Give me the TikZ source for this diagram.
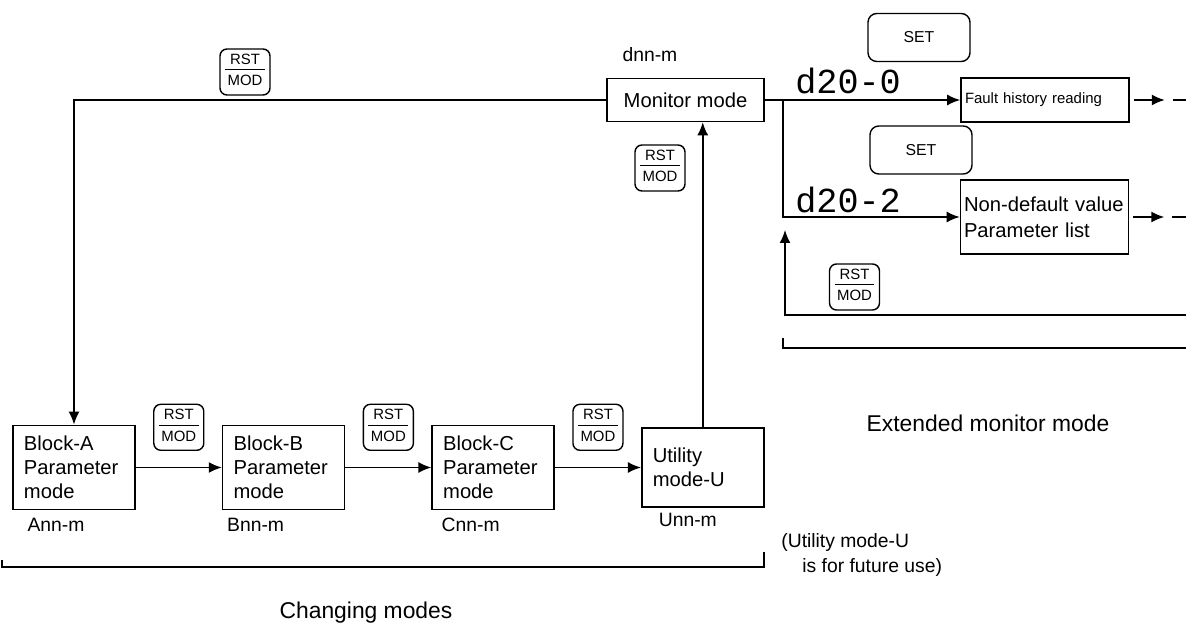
\documentclass[tikz,border=0pt]{standalone}
\usepackage{fontspec}
\setmainfont{Liberation Sans}
\newfontfamily\segfont{Liberation Mono}
\usetikzlibrary{arrows.meta,positioning,calc}

\newcommand{\rstmod}{\begin{tabular}{@{\,}c@{\,}}RST\\[0pt]\hline\rule{0pt}{9pt}MOD\end{tabular}}

\begin{document}
\begin{tikzpicture}[
  mbox/.style={rectangle, draw, line width=0.9pt, minimum width=2.44cm, minimum height=1.58cm,
               text width=2.0cm, align=left, inner sep=0.22cm, font=\fontsize{11.5}{13.5}\selectfont},
  ebox/.style={rectangle, draw, line width=0.9pt, align=left, inner sep=2pt},
  key/.style={rectangle, rounded corners=4pt, draw, line width=0.8pt, minimum width=1cm,
              minimum height=0.92cm, inner sep=1pt, font=\fontsize{8.5}{9}\selectfont},
  setkey/.style={rectangle, rounded corners=5pt, draw, line width=0.8pt, minimum width=2.04cm,
                 minimum height=0.96cm, font=\fontsize{9}{10}\selectfont},
  lbl/.style={inner sep=0pt, font=\fontsize{11}{13}\selectfont},
  caption/.style={inner sep=0pt, font=\fontsize{13}{15}\selectfont},
  seg/.style={inner sep=0pt, font=\segfont\fontsize{20}{20}\selectfont},
  arr/.style={-{Latex[length=2.6mm,width=2.2mm]}, line width=0.9pt},
  ln/.style={line width=0.9pt}
]
  \useasboundingbox (0,0) rectangle (23.72,-12.48);

  % changing modes
  \node[mbox] (blka) at (1.48,-9.35) {Block-A\\Parameter\\mode};
  \node[mbox,right=1.72cm of blka] (blkb) {Block-B\\Parameter\\mode};
  \node[mbox,right=1.72cm of blkb] (blkc) {Block-C\\Parameter\\mode};
  \node[mbox,right=1.72cm of blkc] (util) {Utility\\mode-U};

  \node[lbl,below right=0.14cm and 0.3cm of blka.south west] (anm) {Ann-m};
  \node[lbl,below right=0.14cm and 0.1cm of blkb.south west] (bnm) {Bnn-m};
  \node[lbl,below right=0.14cm and 0.2cm of blkc.south west] (cnm) {Cnn-m};
  \node[lbl,below right=0.1cm and 0.35cm of util.south west] (unm) {Unn-m};

  \draw[arr] (blka) -- node[key,above=0.33cm] (ka) {\rstmod} (blkb);
  \draw[arr] (blkb) -- node[key,above=0.33cm] (kb) {\rstmod} (blkc);
  \draw[arr] (blkc) -- node[key,above=0.33cm] (kc) {\rstmod} (util);

  % monitor mode
  \node[ebox,minimum width=3.14cm,minimum height=0.86cm,font=\fontsize{11.5}{13.5}\selectfont] (mon) at (13.71,-2.0) {Monitor mode};
  \node[lbl,above right=0.32cm and 0.32cm of mon.north west] (dnm) {dnn-m};

  \draw[arr] (util.north) -- (util.north |- mon.south);
  \node[key] (kmon) at (13.2,-3.36) {\rstmod};

  \draw[arr] (mon.west) -| (blka.north);
  \node[key] (ktop) at (4.9,-1.44) {\rstmod};

  % extended monitor mode
  \node[ebox,minimum width=3.36cm,minimum height=0.88cm,text width=3.2cm,font=\fontsize{8.5}{10}\selectfont] (fault) at (20.9,-2.0) {Fault history reading};
  \node[ebox,minimum width=3.34cm,minimum height=1.48cm,text width=3.22cm,font=\fontsize{11.5}{15}\selectfont] (nondef) at (20.89,-4.34) {Non-default value\\Parameter list};

  \coordinate (br) at (15.66,-2.0);
  \draw[arr] (mon.east) -- (fault.west);
  \draw[arr] (br) |- (nondef.west);

  \node[setkey] (set1) at (18.38,-0.75) {SET};
  \node[setkey] (set2) at (18.42,-3.0) {SET};
  \node[seg,anchor=west] (dsp0) at (15.9,-1.62) {d20-0};
  \node[seg,anchor=west] (dsp2) at (15.9,-4.0) {d20-2};

  \coordinate (fa1) at ($(fault.east)+(0.08,0)$);
  \coordinate (fa2) at ($(fault.east)+(0.7,0)$);
  \coordinate (fa3) at ($(fault.east)+(0.86,0)$);
  \coordinate (fa4) at (23.72,-2.0);
  \draw[arr] (fa1) -- (fa2);
  \draw[ln] (fa3) -- (fa4);
  \coordinate (na1) at ($(nondef.east)+(0.08,0)$);
  \coordinate (na2) at ($(nondef.east)+(0.7,0)$);
  \coordinate (na3) at ($(nondef.east)+(0.86,0)$);
  \coordinate (na4) at (23.72,-4.34);
  \draw[arr] (na1) -- (na2);
  \draw[ln] (na3) -- (na4);

  \coordinate (rin) at (23.72,-6.3);
  \coordinate (rup) at (15.7,-4.6);
  \draw[arr] (rin) -| (rup);
  \node[key] (kret) at (17.09,-5.74) {\rstmod};

  % brackets
  \draw[ln] (15.66,-6.76) -- (15.66,-6.96) -- (23.72,-6.96);
  \draw[ln] (0.04,-11.2) -- (0.04,-11.34) -- (15.28,-11.34) -- (15.28,-11.04);

  \node[caption] (extcap) at (19.76,-8.46) {Extended monitor mode};
  \node[caption] (chgcap) at (7.32,-12.26) {Changing modes};
  \node[lbl,anchor=west] (note1) at (15.62,-10.86) {(Utility mode-U};
  \node[lbl,anchor=west] (note2) at (16.04,-11.34) {is for future use)};
\end{tikzpicture}
\end{document}
